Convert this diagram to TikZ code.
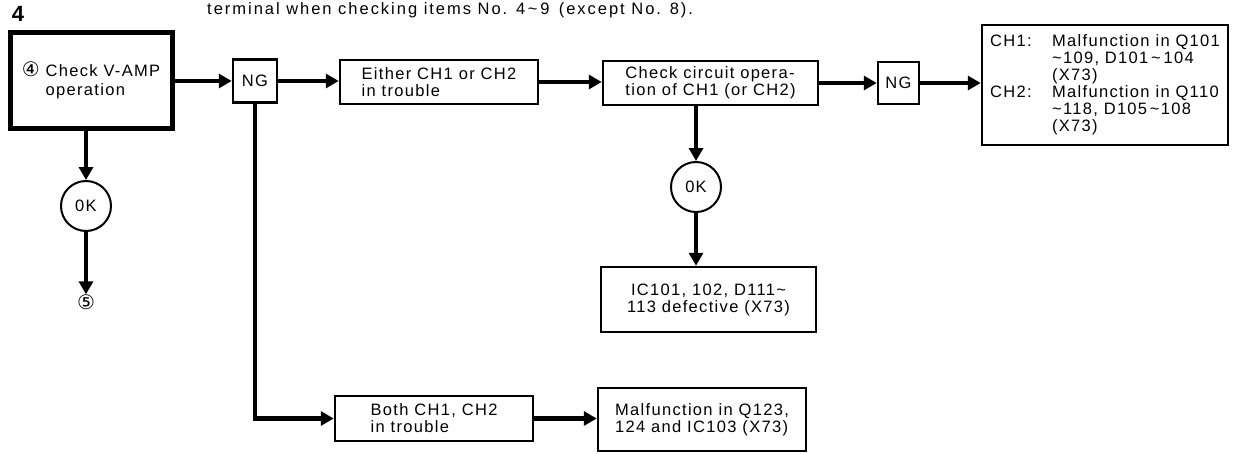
\documentclass[tikz,border=0pt]{standalone}
\usepackage{fontspec}
\setmainfont{Liberation Sans}[LetterSpace=8]
\newfontfamily\circfont{DejaVu Sans}
\newfontfamily\widefont{Liberation Sans}[LetterSpace=12]
\usetikzlibrary{arrows.meta,calc}
\newcommand{\tld}{\textasciitilde}
\newcommand{\circd}[1]{{\circfont\fontsize{20}{17}\selectfont #1}}
\begin{document}
\begin{tikzpicture}[x=1pt,y=-1pt,
  every node/.style={font=\fontsize{16.5}{17}\selectfont},
  box/.style={draw, line width=2.5pt, inner sep=0pt, align=left},
  okc/.style={draw, circle, line width=2pt, minimum size=50pt, inner sep=0pt},
  conn/.style={line width=4.5pt, -{Triangle[length=13pt,width=14pt]}}
]
\useasboundingbox (0,0) rectangle (1235,453);

\node[font=\fontsize{22}{24}\selectfont\bfseries, anchor=base] (num) at (18,21) {4};
\node[anchor=base west, inner sep=0pt, font=\widefont\fontsize{16.5}{17}\selectfont] (top) at (207,14) {terminal when checking items No. 4\,\tld\,9 \,(except No. 8).};

\node[box, line width=5pt, minimum width=162pt, minimum height=96pt, font=\fontsize{16.5}{19}\selectfont] (b1) at (91,80)
  {\circd{④} Check V-AMP\\\phantom{\circd{④} }operation};
\node[box, minimum width=44pt, minimum height=43pt, align=center] (ng1) at (255,81) {NG};
\node[box, minimum width=198pt, minimum height=44pt] (either) at (439,82) {Either CH1 or CH2\\in trouble};
\node[box, minimum width=215pt, minimum height=44pt] (check) at (710.5,83) {Check circuit opera-\\tion of CH1 (or CH2)};
\node[box, minimum width=41pt, minimum height=42pt, align=center] (ng2) at (898.5,83) {NG};
\node[box, minimum width=246pt, minimum height=120pt] (fin) at (1105,85)
  {\makebox[62pt][l]{CH1:}Malfunction in Q101\\
   \hspace*{62pt}\tld109, D101\,\tld\,104\\
   \hspace*{62pt}(X73)\\
   \makebox[62pt][l]{CH2:}Malfunction in Q110\\
   \hspace*{62pt}\tld118, D105\,\tld108\\
   \hspace*{62pt}(X73)};

\node[okc] (ok1) at (86,206) {0K};
\node[inner sep=0pt] (five) at (86,302) {\circd{⑤}};
\node[okc] (ok2) at (696,187) {0K};
\node[box, minimum width=215pt, minimum height=65pt, align=center] (ic) at (708.5,299.5) {IC101, 102, D111\tld\\113 defective (X73)};
\node[box, minimum width=198pt, minimum height=45pt] (both) at (434,418.5) {Both CH1, CH2\\in trouble};
\node[box, minimum width=208pt, minimum height=63pt] (malf) at (702,419.5) {Malfunction in Q123,\\124 and IC103 (X73)};

\draw[conn] (b1.east |- ng1.west) -- (ng1.west);
\draw[conn] (ng1.east) -- (ng1.east -| either.west);
\draw[conn] (either.east) -- (either.east -| check.west);
\draw[conn] (check.east) -- (check.east -| ng2.west);
\draw[conn] (ng2.east) -- (ng2.east -| fin.west);
\draw[conn] (ok1.north |- b1.south) -- (ok1.north);
\draw[conn] (ok1.south) -- (five.north);
\draw[conn] (ng1.south) |- (both.west);
\draw[conn] (both.east) -- (both.east -| malf.west);
\draw[conn] (ok2.north |- check.south) -- (ok2.north);
\draw[conn] (ok2.south) -- (ok2.south |- ic.north);
\end{tikzpicture}
\end{document}
